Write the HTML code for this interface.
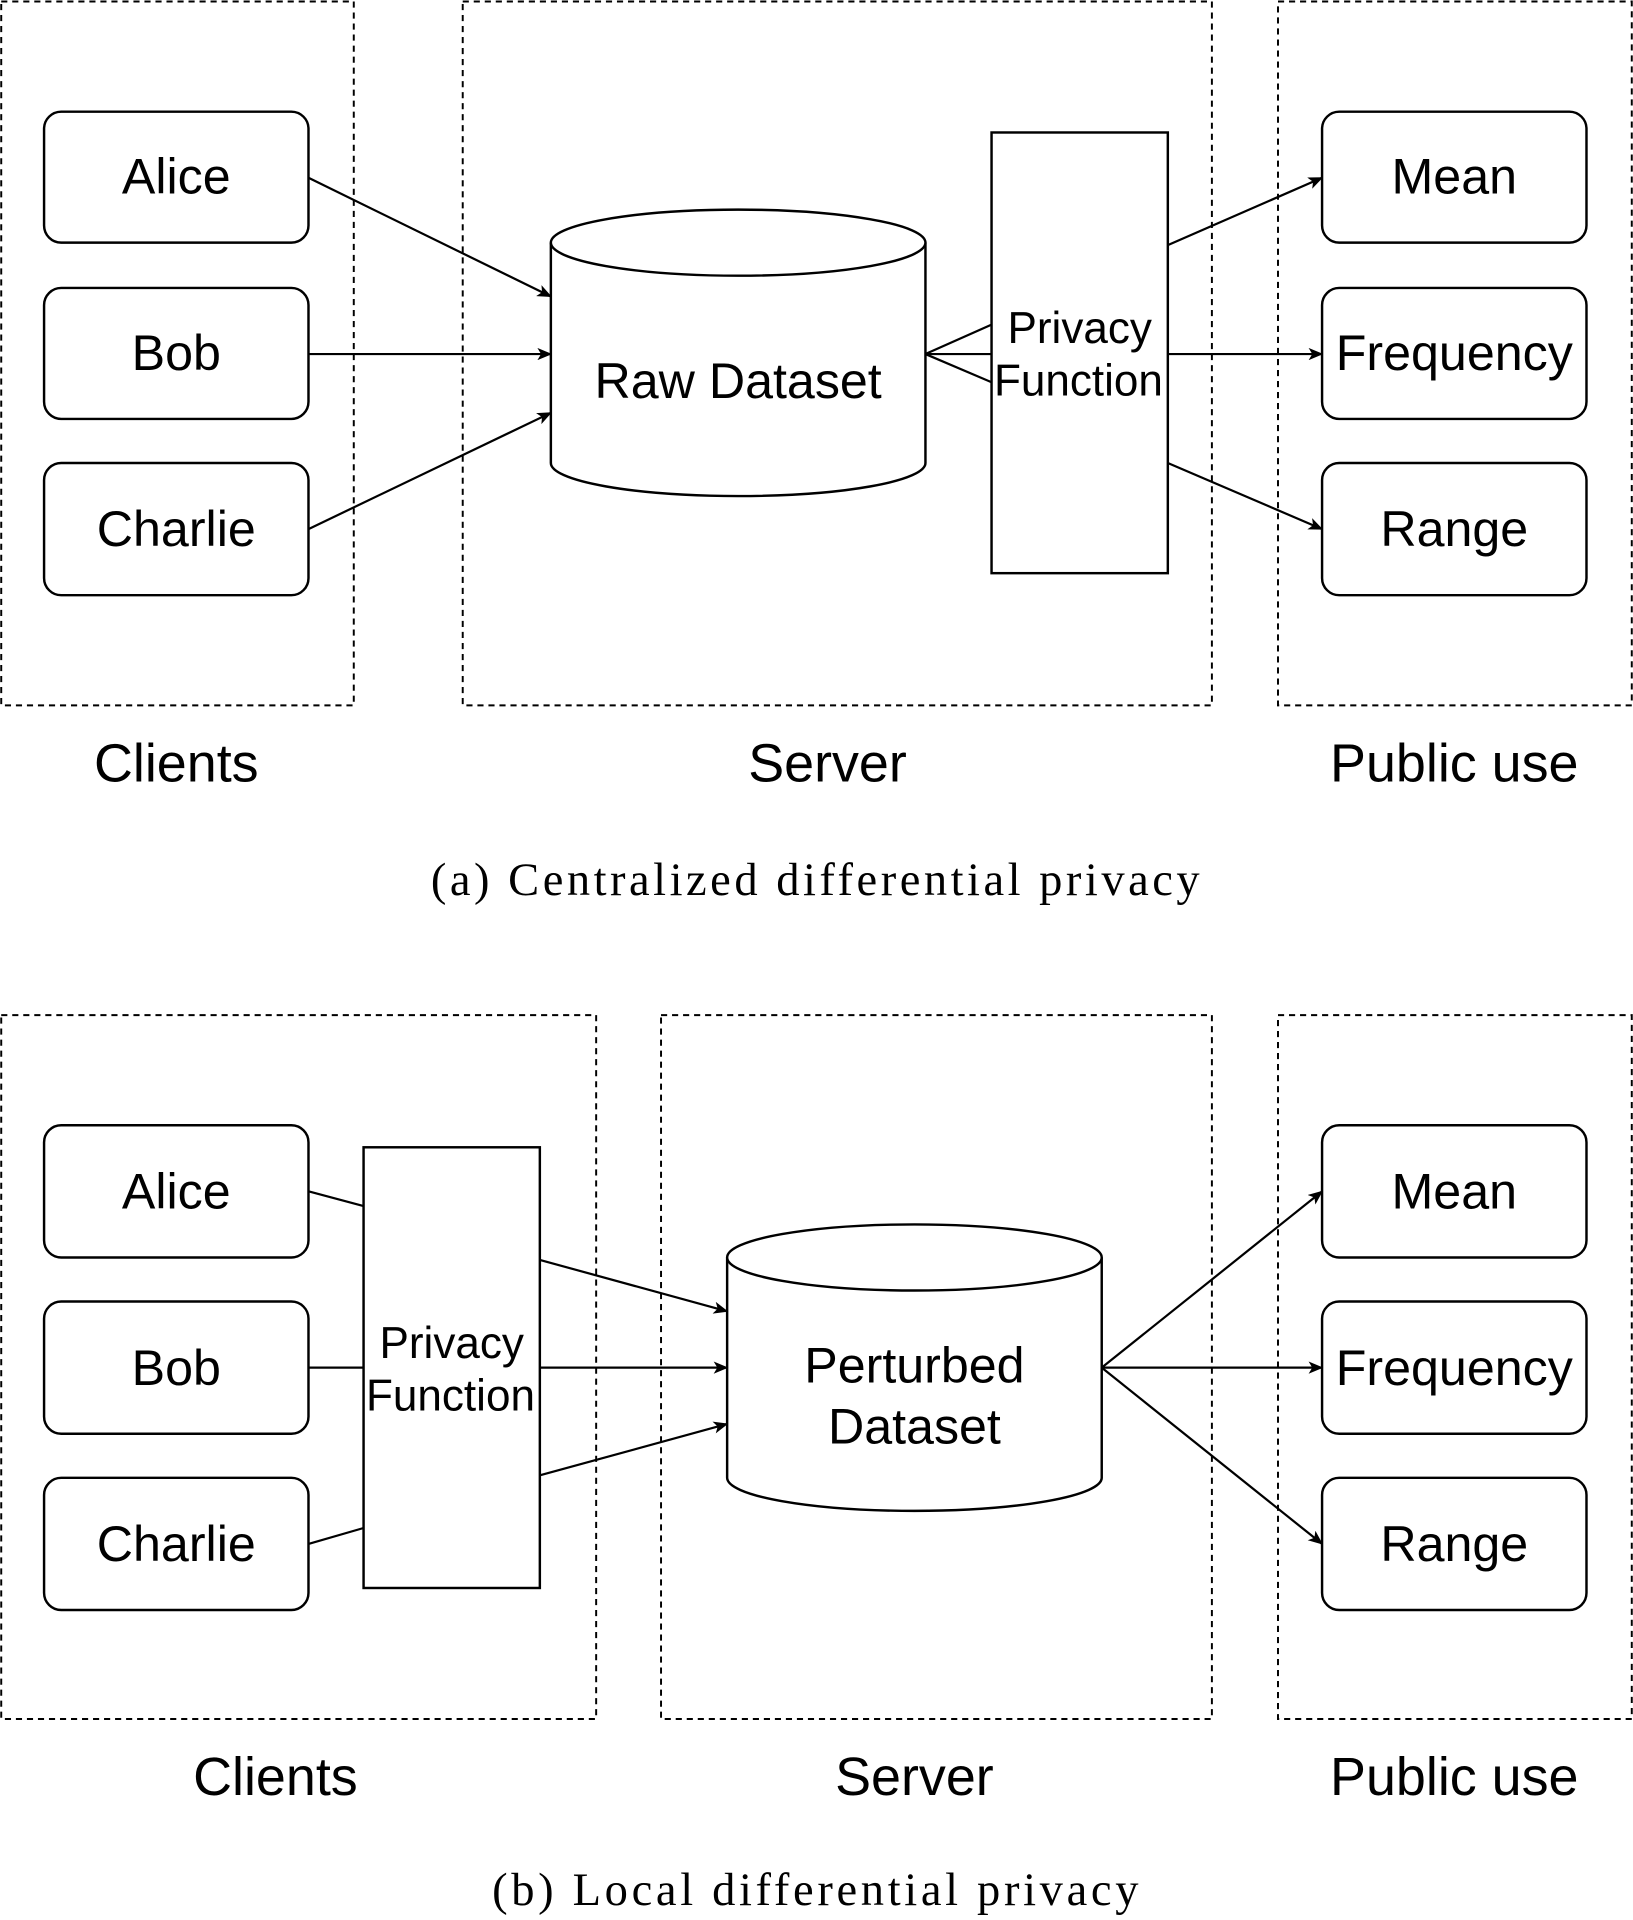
<!DOCTYPE html>
<html><head><meta charset="utf-8"><style>
html,body{margin:0;padding:0;background:#fff;}
svg{display:block;}
.s{font-family:"Liberation Sans",sans-serif;font-size:41px;fill:#000;text-anchor:middle;}
.g{font-family:"Liberation Sans",sans-serif;font-size:44px;fill:#000;text-anchor:middle;}
.t{font-family:"Liberation Sans",sans-serif;font-size:36px;fill:#000;text-anchor:middle;}
.c{font-family:"Liberation Serif",serif;font-size:38px;fill:#000;}
</style></head><body>
<svg width="1633" height="1920" viewBox="0 0 1334 1568" xmlns="http://www.w3.org/2000/svg">
<defs><marker id="a" markerWidth="12" markerHeight="10" refX="11" refY="5" orient="auto" markerUnits="userSpaceOnUse"><path d="M0,0 L12,5 L0,10 L3,5 z" fill="#000"/></marker></defs>
<g fill="none" stroke="#000" stroke-width="1.6" stroke-dasharray="5,4">
<rect x="1" y="1" width="288" height="575"/>
<rect x="378" y="1" width="612" height="575"/>
<rect x="1044" y="1" width="289" height="575"/>
<rect x="1" y="829" width="486" height="575"/>
<rect x="540" y="829" width="450" height="575"/>
<rect x="1044" y="829" width="289" height="575"/>
</g>
<g fill="#fff" stroke="#000" stroke-width="2">
<rect x="36" y="91" width="216" height="107" rx="14"/>
<rect x="36" y="235" width="216" height="107" rx="14"/>
<rect x="36" y="378" width="216" height="108" rx="14"/>
<rect x="1080" y="91" width="216" height="107" rx="14"/>
<rect x="1080" y="235" width="216" height="107" rx="14"/>
<rect x="1080" y="378" width="216" height="108" rx="14"/>
<rect x="810" y="108" width="144" height="360"/>
<path d="M450,198 L450,378 A153,27 0 0 0 756,378 L756,198"/>
<ellipse cx="603" cy="198" rx="153" ry="27"/>
<rect x="36" y="919" width="216" height="108" rx="14"/>
<rect x="36" y="1063" width="216" height="108" rx="14"/>
<rect x="36" y="1207" width="216" height="108" rx="14"/>
<rect x="1080" y="919" width="216" height="108" rx="14"/>
<rect x="1080" y="1063" width="216" height="108" rx="14"/>
<rect x="1080" y="1207" width="216" height="108" rx="14"/>
<rect x="297" y="937" width="144" height="360"/>
<path d="M594,1027 L594,1207 A153,27 0 0 0 900,1207 L900,1027"/>
<ellipse cx="747" cy="1027" rx="153" ry="27"/>
</g>
<g stroke="#000" stroke-width="1.8" fill="none">
<line x1="252" y1="145" x2="450" y2="242" marker-end="url(#a)"/>
<line x1="252" y1="289" x2="450" y2="289" marker-end="url(#a)"/>
<line x1="252" y1="432" x2="450" y2="337" marker-end="url(#a)"/>
<line x1="756" y1="289" x2="810" y2="265"/>
<line x1="756" y1="289" x2="810" y2="289"/>
<line x1="756" y1="289" x2="810" y2="312"/>
<line x1="954" y1="200" x2="1080" y2="145" marker-end="url(#a)"/>
<line x1="954" y1="289" x2="1080" y2="289" marker-end="url(#a)"/>
<line x1="954" y1="378" x2="1080" y2="432" marker-end="url(#a)"/>
<line x1="252" y1="973" x2="297" y2="985"/>
<line x1="252" y1="1117" x2="297" y2="1117"/>
<line x1="252" y1="1261" x2="297" y2="1248"/>
<line x1="441" y1="1029" x2="594" y2="1071" marker-end="url(#a)"/>
<line x1="441" y1="1117" x2="594" y2="1117" marker-end="url(#a)"/>
<line x1="441" y1="1205" x2="594" y2="1163" marker-end="url(#a)"/>
<line x1="900" y1="1117" x2="1080" y2="973" marker-end="url(#a)"/>
<line x1="900" y1="1117" x2="1080" y2="1117" marker-end="url(#a)"/>
<line x1="900" y1="1117" x2="1080" y2="1261" marker-end="url(#a)"/>
</g>
<text class="s" x="144" y="158">Alice</text>
<text class="s" x="144" y="302">Bob</text>
<text class="s" x="144" y="446">Charlie</text>
<text class="s" x="1188" y="158">Mean</text>
<text class="s" x="1188" y="302">Frequency</text>
<text class="s" x="1188" y="446">Range</text>
<text class="s" x="603" y="325">Raw Dataset</text>
<text class="t" x="882" y="280">Privacy</text>
<text class="t" x="881" y="323">Function</text>
<text class="g" x="144" y="638">Clients</text>
<text class="g" x="676" y="638">Server</text>
<text class="g" x="1188" y="638">Public use</text>
<text class="c" x="352" y="731" textLength="628" lengthAdjust="spacing">(a) Centralized differential privacy</text>
<text class="s" x="144" y="987">Alice</text>
<text class="s" x="144" y="1131">Bob</text>
<text class="s" x="144" y="1275">Charlie</text>
<text class="s" x="1188" y="987">Mean</text>
<text class="s" x="1188" y="1131">Frequency</text>
<text class="s" x="1188" y="1275">Range</text>
<text class="s" x="747" y="1129">Perturbed</text>
<text class="s" x="747" y="1179">Dataset</text>
<text class="t" x="369" y="1109">Privacy</text>
<text class="t" x="368" y="1152">Function</text>
<text class="g" x="225" y="1466">Clients</text>
<text class="g" x="747" y="1466">Server</text>
<text class="g" x="1188" y="1466">Public use</text>
<text class="c" x="402" y="1556" textLength="528" lengthAdjust="spacing">(b) Local differential privacy</text>
</svg>
</body></html>
